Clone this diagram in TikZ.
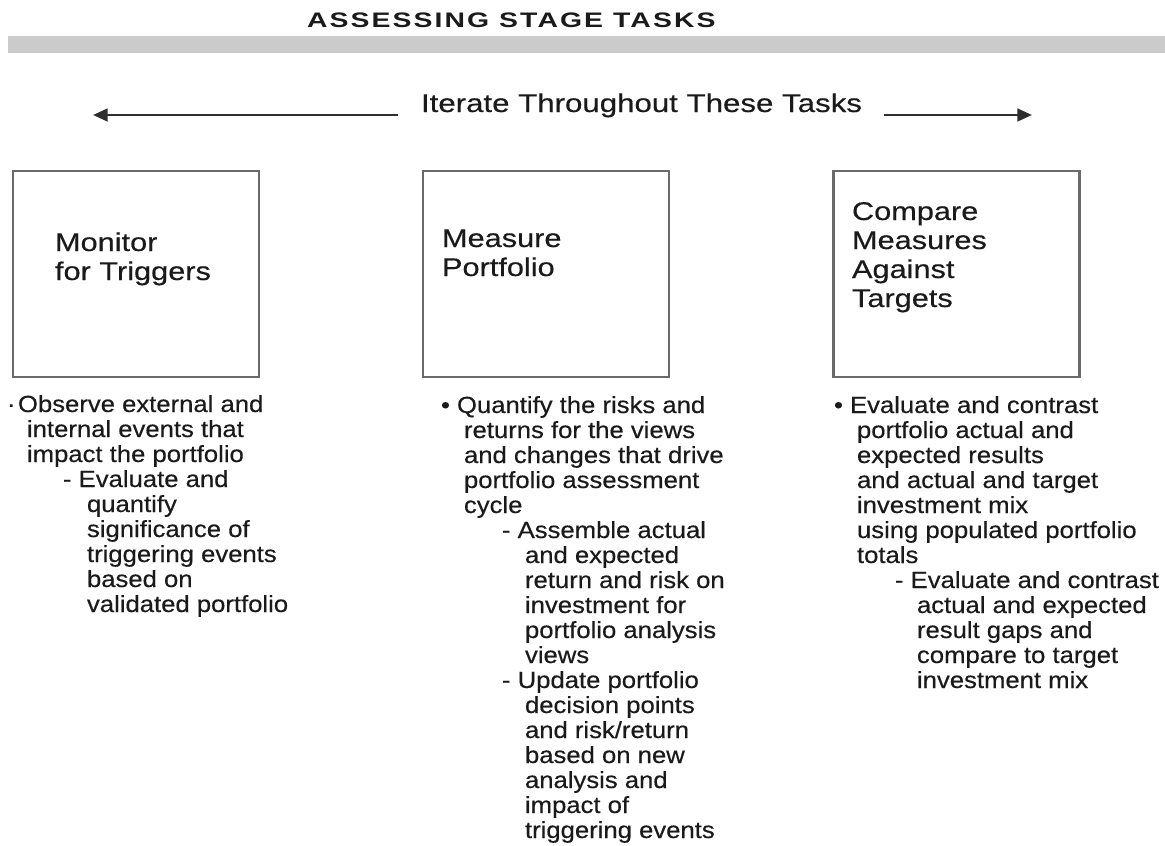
\documentclass[tikz,border=0pt]{standalone}
\usepackage{fontspec}
\setmainfont{Liberation Sans}
\newfontfamily\titlefam[FakeStretch=1.35,LetterSpace=10]{Liberation Sans}
\newfontfamily\boxfam[FakeStretch=1.2,FakeBold=0.4]{Liberation Sans}
\newfontfamily\iterfam[FakeStretch=1.22,FakeBold=0.4]{Liberation Sans}
\newfontfamily\bodyfam[FakeStretch=1.1,FakeBold=0.4]{Liberation Sans}
\usetikzlibrary{arrows.meta}
\newlength\pxu \setlength\pxu{0.75pt}
\newcommand\ind[1]{\hspace*{#1\pxu}}
\definecolor{ink}{HTML}{1A1A1A}
\definecolor{barfill}{HTML}{CBCBCB}
\definecolor{boxline}{HTML}{6A6A6A}
\definecolor{arrowline}{HTML}{2E2E2E}
\tikzset{
  txt/.style={inner sep=0pt, outer sep=0pt, anchor=base west, text=ink},
  titletext/.style={txt, font=\titlefam\bfseries\fontsize{15.75}{18}\selectfont},
  boxtext/.style={txt, font=\boxfam\fontsize{19.2}{21.75}\selectfont},
  itertext/.style={txt, font=\iterfam\fontsize{19.2}{21.75}\selectfont},
  bodytext/.style={txt, font=\bodyfam\fontsize{17.5}{18.75}\selectfont},
  taskbox/.style={draw=boxline, line width=1.6pt, minimum width=184.5pt, minimum height=154.5pt, inner sep=0pt, outer sep=0pt},
  iterarrow/.style={draw=arrowline, line width=2pt, -{Triangle[length=11pt,width=9.5pt]}}
}
\begin{document}
\begin{tikzpicture}[x=0.75pt,y=-0.75pt]
\useasboundingbox (0,0) rectangle (1165,846);
% title and bar
\node[titletext] (title) at (307,27) {ASSESSING STAGE TASKS};
\fill[barfill] (8,36) rectangle (1165,53);
% iterate arrows
\node[itertext] (iter) at (421,112) {Iterate Throughout These Tasks};
\coordinate (la) at (398,115);
\coordinate (lb) at (93,115);
\coordinate (ra) at (884,115);
\coordinate (rb) at (1032,115);
\draw[iterarrow] (la) -- (lb);
\draw[iterarrow] (ra) -- (rb);
% boxes
\node[taskbox] (b1) at (136,274) {};
\node[taskbox] (b2) at (546,274) {};
\node[taskbox] (b3) at (956.5,274) {};
\node[boxtext] (l1) at (55,251) {\begin{tabular}[t]{@{}l@{}}Monitor\\for Triggers\end{tabular}};
\node[boxtext] (l2) at (442,247) {\begin{tabular}[t]{@{}l@{}}Measure\\Portfolio\end{tabular}};
\node[boxtext] (l3) at (852,220) {\begin{tabular}[t]{@{}l@{}}Compare\\Measures\\Against\\Targets\end{tabular}};
% bullets
\node[bodytext] (d1) at (7,412) {\textperiodcentered};
\node[bodytext] (d2) at (441,413) {\char"2022};
\node[bodytext] (d3) at (834,413) {\char"2022};
% column texts
\node[bodytext] (t1) at (18,412) {\begin{tabular}[t]{@{}l@{}}
Observe external and\\
\ind{9}internal events that\\
\ind{9}impact the portfolio\\
\ind{45}- Evaluate and\\
\ind{69}quantify\\
\ind{69}significance of\\
\ind{69}triggering events\\
\ind{69}based on\\
\ind{69}validated portfolio
\end{tabular}};
\node[bodytext] (t2) at (457,413) {\begin{tabular}[t]{@{}l@{}}
Quantify the risks and\\
\ind{7}returns for the views\\
\ind{7}and changes that drive\\
\ind{7}portfolio assessment\\
\ind{7}cycle\\
\ind{45}- Assemble actual\\
\ind{68}and expected\\
\ind{68}return and risk on\\
\ind{68}investment for\\
\ind{68}portfolio analysis\\
\ind{68}views\\
\ind{45}- Update portfolio\\
\ind{68}decision points\\
\ind{68}and risk/return\\
\ind{68}based on new\\
\ind{68}analysis and\\
\ind{68}impact of\\
\ind{68}triggering events
\end{tabular}};
\node[bodytext] (t3) at (850,413) {\begin{tabular}[t]{@{}l@{}}
Evaluate and contrast\\
\ind{7}portfolio actual and\\
\ind{7}expected results\\
\ind{7}and actual and target\\
\ind{7}investment mix\\
\ind{7}using populated portfolio\\
\ind{7}totals\\
\ind{45}- Evaluate and contrast\\
\ind{67}actual and expected\\
\ind{67}result gaps and\\
\ind{67}compare to target\\
\ind{67}investment mix
\end{tabular}};
\end{tikzpicture}
\end{document}
